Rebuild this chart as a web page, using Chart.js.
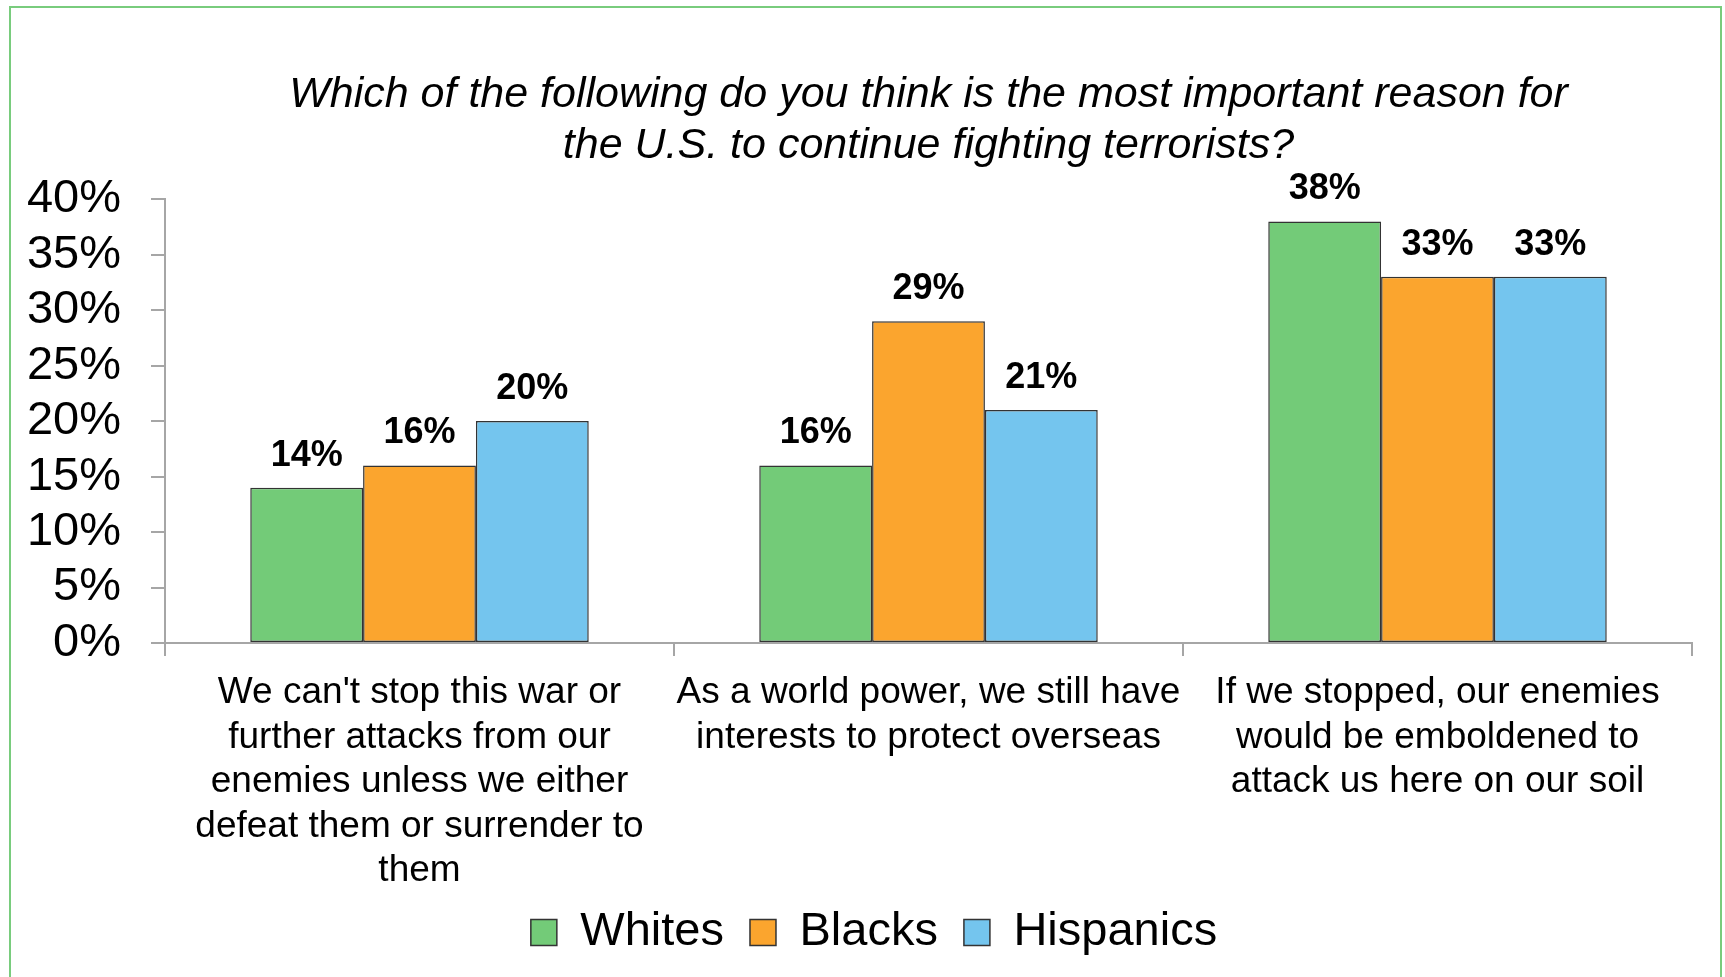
<!DOCTYPE html>
<html>
<head>
<meta charset="utf-8">
<script src="https://cdn.jsdelivr.net/npm/chart.js@4.4.1/dist/chart.umd.min.js"></script>
<style>
  html, body { margin: 0; padding: 0; background: #fff; }
  #wrap { position: relative; width: 1725px; height: 977px; overflow: hidden; }
  #frame { position: absolute; left: 9px; top: 6px; width: 1709px; height: 1000px; border: 2px solid #79cc7d; }
  #chart { position: absolute; left: 0; top: 0; }
</style>
</head>
<body>
<div id="wrap">
  <div id="frame"></div>
  <canvas id="chart" width="1725" height="977"></canvas>
</div>
<script>
// chart data
const categories = [
    ["We can't stop this war or", "further attacks from our", "enemies unless we either", "defeat them or surrender to", "them"],
    ["As a world power, we still have", "interests to protect overseas"],
    ["If we stopped, our enemies", "would be emboldened to", "attack us here on our soil"]
];
const seriesNames = ['Whites', 'Blacks', 'Hispanics'];
const whites = [14, 16, 38];
const blacks = [16, 29, 33];
const hispanics = [20, 21, 33];
const seriesColors = ['#73cb78', '#fba52e', '#74c5ee'];
const titleLines = [
    'Which of the following do you think is the most important reason for',
    'the U.S. to continue fighting terrorists?'
];

const FONT = '"Liberation Sans", Arial, sans-serif';

// draws the percentage above each bar
const valueLabels = {
    id: 'valueLabels',
    afterDatasetsDraw(chart) {
        const ctx = chart.ctx;
        ctx.save();
        ctx.font = 'bold 36px ' + FONT;
        ctx.fillStyle = '#000';
        ctx.textAlign = 'center';
        ctx.textBaseline = 'middle';
        chart.data.datasets.forEach(function (ds, i) {
            chart.getDatasetMeta(i).data.forEach(function (bar, j) {
                ctx.fillText(ds.data[j] + '%', bar.x, bar.y - 32);
            });
        });
        ctx.restore();
    }
};

const seriesData = [whites, blacks, hispanics];

new Chart(document.getElementById('chart'), {
    type: 'bar',
    data: {
        labels: categories,
        datasets: seriesNames.map(function (name, i) {
            return {
                label: name,
                data: seriesData[i],
                backgroundColor: seriesColors[i],
                borderColor: '#333333',
                borderWidth: 1.5,
                borderSkipped: false,
                categoryPercentage: 0.665,
                barPercentage: 1.0
            };
        })
    },
    options: {
        responsive: false,
        animation: false,
        devicePixelRatio: 1,
        layout: { padding: { left: 23, right: 0, top: 0, bottom: 11 } },
        plugins: {
            title: {
                display: true,
                text: titleLines,
                fullSize: false,
                color: '#000',
                font: { family: FONT, size: 43, style: 'italic', weight: 'normal', lineHeight: 1.2 },
                padding: { top: 69, bottom: 27 }
            },
            legend: {
                position: 'bottom',
                labels: {
                    color: '#000',
                    font: { family: FONT, size: 47 },
                    boxWidth: 26,
                    boxHeight: 26,
                    padding: 26
                }
            },
            tooltip: { enabled: false }
        },
        scales: {
            x: {
                grid: { drawOnChartArea: false, offset: true, tickLength: 13, color: '#a6a6a6', lineWidth: 2 },
                border: { color: '#a6a6a6', width: 2 },
                ticks: {
                    color: '#000',
                    font: { family: FONT, size: 37, lineHeight: 1.2 },
                    padding: 15,
                    maxRotation: 0,
                    autoSkip: false
                },
                afterFit: function (scale) { scale.height = 240; }
            },
            y: {
                min: 0,
                max: 40,
                grid: { drawOnChartArea: false, tickLength: 14, color: '#a6a6a6', lineWidth: 2 },
                border: { color: '#a6a6a6', width: 2 },
                ticks: {
                    stepSize: 5,
                    autoSkip: false,
                    color: '#000',
                    padding: 30,
                    font: { family: FONT, size: 47, lineHeight: 1.2 },
                    callback: function (v) { return v + '%'; }
                },
                afterFit: function (scale) { scale.width = 142; }
            },
            rightPad: {
                type: 'linear',
                position: 'right',
                display: true,
                grid: { display: false },
                border: { display: false },
                ticks: { display: false },
                afterFit: function (scale) { scale.width = 33; }
            }
        }
    },
    plugins: [valueLabels]
});
</script>
</body>
</html>
